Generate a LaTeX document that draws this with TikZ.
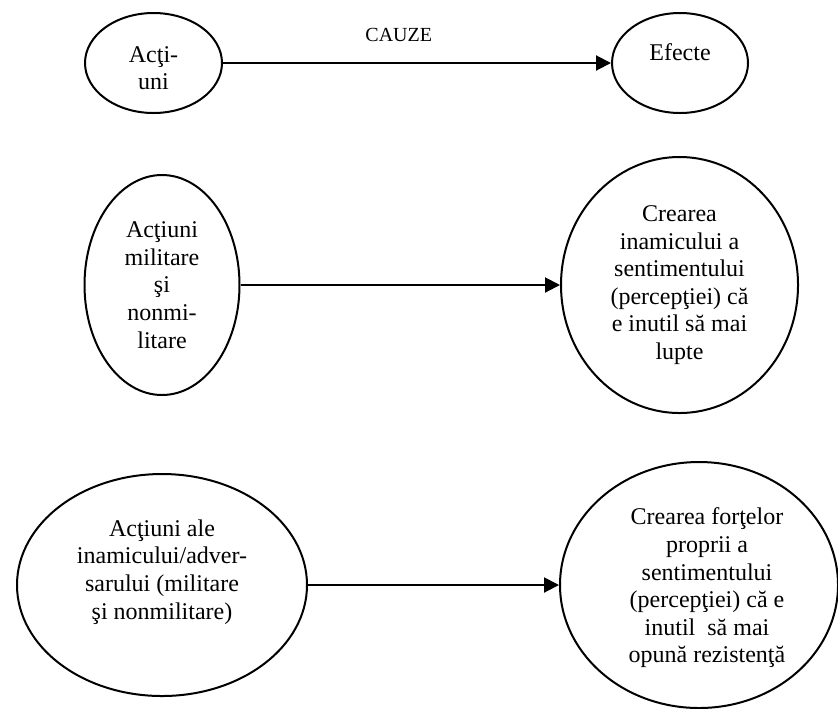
\documentclass[tikz,border=0pt]{standalone}
\usepackage{fontspec}
\setmainfont{Liberation Serif}
\usetikzlibrary{arrows.meta, shapes.geometric}

\begin{document}
\begin{tikzpicture}[>={Triangle[length=7.5pt, width=7.5pt]}, line width=1pt,
    x=0.5pt, y=-0.5pt, font=\fontsize{12}{13.8}\selectfont]
    \useasboundingbox (0,0) rectangle (838,708);

    \node [draw,
    ellipse,
    inner sep=0,
    minimum width=68.5pt,
    minimum height=50pt
    ] (actiuni) at (153.5,63) {
        \begin{minipage}{1cm}\centering
            \vspace*{5pt}
            Acţi-\\
            uni
        \end{minipage}
    };

    \node [draw,
    ellipse,
    inner sep=0,
    minimum width=68pt,
    minimum height=50pt
    ] (efecte) at (680,63) {
        \begin{minipage}{1.5cm}\centering
            Efecte\par
            \vspace{11pt}
        \end{minipage}
    };

    \node [draw,
    ellipse,
    inner sep=0,
    minimum width=77.5pt,
    minimum height=110pt
    ] (actiuni militare) at (162,285) {
        \begin{minipage}{1.6cm}\centering
            Acţiuni\\
            militare\\
            şi\\
            nonmi-\\
            litare
        \end{minipage}
    };

    \node [draw,
    ellipse,
    inner sep=0,
    minimum width=118.5pt,
    minimum height=128pt
    ] (crearea inamic) at (679.5,285) {
        \begin{minipage}{2.6cm}\centering
            Crearea\\
            inamicului a\\
            sentimentului\\
            (percepţiei) că\\
            e inutil să mai\\
            lupte
        \end{minipage}
    };

    \node [draw,
    ellipse,
    inner sep=0,
    minimum width=145pt,
    minimum height=111pt
    ] (actiuni inamic) at (162,585) {
        \begin{minipage}{3.4cm}\centering
            Acţiuni ale\\
            inamicului/adver-\\
            sarului (militare\\
            şi nonmilitare)\par
            \vspace{13pt}
        \end{minipage}
    };

    \node [draw,
    ellipse,
    inner sep=0,
    minimum width=139pt,
    minimum height=123pt
    ] (crearea proprii) at (699,585) {
        \hspace*{8pt}%
        \begin{minipage}{3cm}\centering
            \vspace*{3pt}
            Crearea forţelor\\
            proprii a\\
            sentimentului\\
            (percepţiei) că e\\
            inutil\ \ să mai\\
            opună rezistenţă
        \end{minipage}
    };

    % sageti
    \draw [->] (actiuni) -- (efecte)
    node [pos=0.453, yshift=14pt, font=\fontsize{10}{12}\selectfont] (cauze) {CAUZE};

    \draw [->] (actiuni militare) -- (crearea inamic);
    \draw [->] (actiuni inamic) -- (crearea proprii);
\end{tikzpicture}
\end{document}
